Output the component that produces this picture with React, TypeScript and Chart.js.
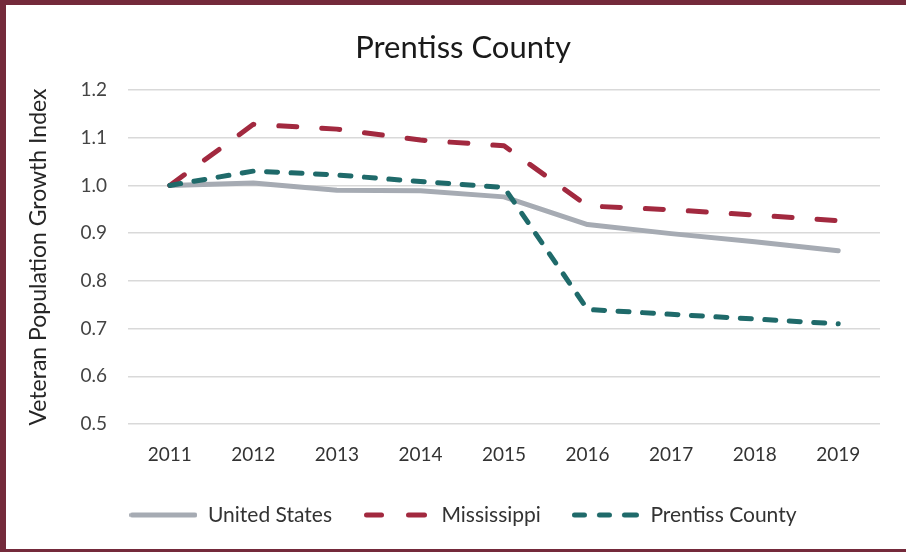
import React, { useEffect, useRef } from "react";
import { Chart, registerables } from "chart.js";

Chart.register(...registerables);

const years = ["2011", "2012", "2013", "2014", "2015", "2016", "2017", "2018", "2019"];
const unitedStates = [1.0, 1.005, 0.99, 0.989, 0.976, 0.918, 0.899, 0.882, 0.863];
const mississippi = [1.0, 1.128, 1.118, 1.095, 1.083, 0.957, 0.949, 0.938, 0.926];
const prentiss = [1.0, 1.03, 1.022, 1.008, 0.996, 0.74, 0.73, 0.72, 0.71];
const yTicks = [0.5, 0.6, 0.7, 0.8, 0.9, 1.0, 1.1, 1.2];

const FONT = "Lato";
const MAROON = "#742a3b";
const US_COLOR = "#a6abb3";
const MS_COLOR = "#a2293f";
const PC_COLOR = "#1f6a6a";

// Legend sample icons (segments in px along a 68px wide sample)
function makeSample(color: string, segments: number[][]) {
  const c = document.createElement("canvas");
  c.width = 68;
  c.height = 10;
  const ctx = c.getContext("2d");
  if (ctx) {
    ctx.strokeStyle = color;
    ctx.lineWidth = 5;
    ctx.lineCap = "round";
    for (const [a, b] of segments) {
      ctx.beginPath();
      ctx.moveTo(a + 2.5, 5);
      ctx.lineTo(b - 2.5, 5);
      ctx.stroke();
    }
  }
  return c;
}

export default function App() {
  const ref = useRef<HTMLCanvasElement | null>(null);

  useEffect(() => {
    if (!ref.current) return;
    const usIcon = makeSample(US_COLOR, [[0, 68]]);
    const msIcon = makeSample(MS_COLOR, [[1, 21], [43, 64]]);
    const pcIcon = makeSample(PC_COLOR, [[0, 15], [25, 40], [50, 67]]);
    const chart = new Chart(ref.current, {
      type: "line",
      data: {
        labels: years,
        datasets: [
          {
            label: "United States",
            data: unitedStates,
            borderColor: US_COLOR,
            borderWidth: 5,
            borderCapStyle: "round",
            borderJoinStyle: "round",
            pointRadius: 0,
            pointStyle: usIcon as any,
            tension: 0,
            order: 3,
          },
          {
            label: "Mississippi",
            data: mississippi,
            borderColor: MS_COLOR,
            borderWidth: 5,
            borderDash: [18, 25],
            borderCapStyle: "round",
            borderJoinStyle: "round",
            pointRadius: 0,
            pointStyle: msIcon as any,
            tension: 0,
            order: 2,
          },
          {
            label: "Prentiss County",
            data: prentiss,
            borderColor: PC_COLOR,
            borderWidth: 5,
            borderDash: [11, 13.5],
            borderCapStyle: "round",
            borderJoinStyle: "round",
            pointRadius: 0,
            pointStyle: pcIcon as any,
            tension: 0,
            order: 1,
          },
        ],
      },
      options: {
        animation: false,
        responsive: false,
        maintainAspectRatio: false,
        layout: { padding: { left: 20, right: 0, top: 0, bottom: 16.5 } },
        plugins: {
          tooltip: { enabled: false },
          title: {
            display: true,
            text: "Prentiss County",
            color: "#1a1a1a",
            font: { family: FONT, size: 31, weight: "normal" },
            padding: { top: 29.4, bottom: 23.4 },
          },
          legend: {
            display: true,
            position: "bottom",
            labels: {
              usePointStyle: true,
              pointStyleWidth: 68,
              padding: 31,
              color: "#333333",
              font: { family: FONT, size: 21 },
              sort: (a: any, b: any) => a.datasetIndex - b.datasetIndex,
            },
          },
        },
        scales: {
          x: {
            type: "category",
            offset: true,
            grid: { display: false, drawTicks: false },
            border: { display: false },
            ticks: {
              color: "#333333",
              font: { family: FONT, size: 19 },
              padding: 19.6,
              maxRotation: 0,
            },
            afterFit: (s: any) => {
              s.height = 49.5;
            },
          },
          y: {
            type: "linear",
            position: "left",
            min: 0.5,
            max: 1.2,
            afterBuildTicks: (s: any) => {
              s.ticks = yTicks.map((v) => ({ value: v }));
            },
            grid: { color: "#d9d9d9", lineWidth: 1.5, drawTicks: false },
            border: { display: false },
            ticks: {
              color: "#444444",
              font: { family: FONT, size: 19 },
              padding: 21,
              callback: (v: any) => Number(v).toFixed(1),
            },
            title: {
              display: true,
              text: "Veteran Population Growth Index",
              color: "#262626",
              font: { family: FONT, size: 23 },
              padding: { top: 5, bottom: 0 },
            },
            afterFit: (s: any) => {
              s.width = 108;
            },
          },
          y2: {
            type: "linear",
            position: "right",
            display: true,
            grid: { display: false },
            border: { display: false },
            ticks: { display: false },
            afterFit: (s: any) => {
              s.width = 26;
            },
          },
        },
      },
    });
    return () => chart.destroy();
  }, []);

  return (
    <div
      style={{
        position: "fixed",
        left: 0,
        top: 0,
        width: 906,
        height: 552,
        background: "#ffffff",
        overflow: "hidden",
      }}
    >
      <canvas ref={ref} width={906} height={552} style={{ position: "absolute", left: 0, top: 0 }} />
      <div style={{ position: "absolute", left: 0, top: 0, width: 906, height: 5, background: MAROON }} />
      <div style={{ position: "absolute", left: 0, top: 0, width: 6, height: 552, background: MAROON }} />
      <div style={{ position: "absolute", left: 0, top: 549, width: 906, height: 3, background: MAROON }} />
    </div>
  );
}
